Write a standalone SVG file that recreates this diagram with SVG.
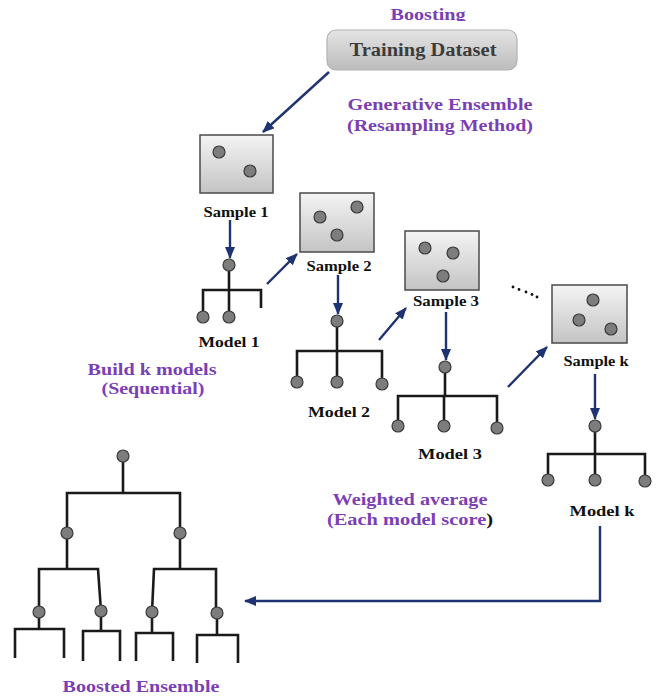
<svg xmlns="http://www.w3.org/2000/svg" width="659" height="696" viewBox="0 0 659 696">
  <style>
    .lbl { font-family: "Liberation Serif", "Times New Roman", serif; font-weight: bold; text-anchor: middle; }
    .purple { fill: #7b3fb5; font-size: 17px; }
    .cap { fill: #111; font-size: 14px; }
    .box { fill: url(#boxGrad); stroke: #4a4a4a; stroke-width: 1.5; }
    .dot { fill: #7d7d7d; stroke: #3a3a3a; stroke-width: 1.2; }
    .tree { fill: none; stroke: #1a1a1a; stroke-width: 2.6; stroke-linejoin: miter; stroke-linecap: butt; }
    .flow { fill: none; stroke: #1f3372; stroke-width: 2.4; }
  </style>
  <defs>
    <linearGradient id="boxGrad" x1="0" y1="0" x2="0" y2="1">
      <stop offset="0" stop-color="#f4f4f4"/>
      <stop offset="1" stop-color="#c4c4c4"/>
    </linearGradient>
    <linearGradient id="dataGrad" x1="0" y1="0" x2="0" y2="1">
      <stop offset="0" stop-color="#e4e4e4"/>
      <stop offset="1" stop-color="#bcbcbc"/>
    </linearGradient>
    <marker id="arrow" markerUnits="userSpaceOnUse" markerWidth="12" markerHeight="10" refX="11" refY="5" orient="auto">
      <path d="M0,0 L12,5 L0,10 Z" fill="#1f3372"/>
    </marker>
    <clipPath id="topClip">
      <rect x="0" y="0" width="659" height="21"/>
    </clipPath>
  </defs>

  <rect width="659" height="696" fill="#ffffff"/>

  <!-- headings and annotations -->
  <text class="lbl purple" x="428" y="20" textLength="75" lengthAdjust="spacingAndGlyphs" clip-path="url(#topClip)">Boosting</text>
  <text class="lbl purple" x="440" y="110" textLength="185" lengthAdjust="spacingAndGlyphs">Generative Ensemble</text>
  <text class="lbl purple" x="440" y="131" textLength="186" lengthAdjust="spacingAndGlyphs">(Resampling Method)</text>
  <text class="lbl purple" x="152" y="375" textLength="129" lengthAdjust="spacingAndGlyphs">Build k models</text>
  <text class="lbl purple" x="153" y="394" textLength="103" lengthAdjust="spacingAndGlyphs">(Sequential)</text>
  <text class="lbl purple" x="410" y="505" textLength="155" lengthAdjust="spacingAndGlyphs">Weighted average</text>
  <text class="lbl purple" x="410" y="525" textLength="166" lengthAdjust="spacingAndGlyphs">(Each model score<tspan fill="#111">)</tspan></text>
  <text class="lbl purple" x="141" y="692" textLength="157" lengthAdjust="spacingAndGlyphs">Boosted Ensemble</text>

  <!-- training dataset -->
  <g id="training-dataset">
    <rect x="327" y="30" width="190" height="40" rx="9" fill="url(#dataGrad)" stroke="#b2b2b2" stroke-width="1.2"/>
    <text class="lbl" x="423" y="56" font-size="18" fill="#3c3c3c" textLength="147" lengthAdjust="spacingAndGlyphs">Training Dataset</text>
  </g>

  <!-- samples -->
  <g id="sample-1">
    <rect class="box" x="200" y="135" width="73" height="58"/>
    <circle class="dot" cx="219" cy="152" r="6"/>
    <circle class="dot" cx="250" cy="171" r="6"/>
    <text class="lbl cap" x="236" y="217" textLength="65" lengthAdjust="spacingAndGlyphs">Sample 1</text>
  </g>
  <g id="sample-2">
    <rect class="box" x="300" y="193" width="74" height="59"/>
    <circle class="dot" cx="320" cy="217" r="6"/>
    <circle class="dot" cx="357" cy="207" r="6"/>
    <circle class="dot" cx="337" cy="235" r="6"/>
    <text class="lbl cap" x="339" y="271" textLength="65" lengthAdjust="spacingAndGlyphs">Sample 2</text>
  </g>
  <g id="sample-3">
    <rect class="box" x="405" y="231" width="74" height="59"/>
    <circle class="dot" cx="425" cy="248" r="6"/>
    <circle class="dot" cx="453" cy="253" r="6"/>
    <circle class="dot" cx="443" cy="276" r="6"/>
    <text class="lbl cap" x="446" y="306" textLength="66" lengthAdjust="spacingAndGlyphs">Sample 3</text>
  </g>
  <g id="sample-k">
    <rect class="box" x="552" y="285" width="75" height="58"/>
    <circle class="dot" cx="593" cy="300" r="6"/>
    <circle class="dot" cx="579" cy="320" r="6"/>
    <circle class="dot" cx="611" cy="329" r="6"/>
    <text class="lbl cap" x="596" y="366" textLength="65" lengthAdjust="spacingAndGlyphs">Sample k</text>
  </g>

  <!-- ellipsis between sample 3 and sample k -->
  <g id="ellipsis" fill="#111">
    <circle cx="513" cy="287" r="1.4"/>
    <circle cx="519" cy="289.5" r="1.4"/>
    <circle cx="526" cy="292" r="1.4"/>
    <circle cx="532" cy="294.5" r="1.4"/>
    <circle cx="537" cy="297" r="1.4"/>
  </g>

  <!-- models -->
  <g id="model-1">
    <path class="tree" d="M229,265 V290 M203,317 V290 H261 V308 M229,290 V317"/>
    <circle class="dot" cx="229" cy="265" r="6"/>
    <circle class="dot" cx="203" cy="317" r="6"/>
    <circle class="dot" cx="229" cy="317" r="6"/>
    <text class="lbl cap" x="229" y="347" textLength="61" lengthAdjust="spacingAndGlyphs">Model 1</text>
  </g>
  <g id="model-2">
    <path class="tree" d="M337,321 V351 M297,382 V351 H382 V384 M337,351 V382"/>
    <circle class="dot" cx="337" cy="321" r="6"/>
    <circle class="dot" cx="297" cy="382" r="6"/>
    <circle class="dot" cx="337" cy="382" r="6"/>
    <circle class="dot" cx="382" cy="384" r="6"/>
    <text class="lbl cap" x="339" y="417" textLength="62" lengthAdjust="spacingAndGlyphs">Model 2</text>
  </g>
  <g id="model-3">
    <path class="tree" d="M445,367 V396 M398,426 V396 H497 V428 M444,396 V426"/>
    <circle class="dot" cx="445" cy="367" r="6"/>
    <circle class="dot" cx="398" cy="426" r="6"/>
    <circle class="dot" cx="444" cy="426" r="6"/>
    <circle class="dot" cx="497" cy="428" r="6"/>
    <text class="lbl cap" x="450" y="459" textLength="64" lengthAdjust="spacingAndGlyphs">Model 3</text>
  </g>
  <g id="model-k">
    <path class="tree" d="M595,426 V454 M548,480 V454 H645 V481 M595,454 V480"/>
    <circle class="dot" cx="595" cy="426" r="6"/>
    <circle class="dot" cx="548" cy="480" r="6"/>
    <circle class="dot" cx="595" cy="480" r="6"/>
    <circle class="dot" cx="645" cy="481" r="6"/>
    <text class="lbl cap" x="602" y="516" textLength="65" lengthAdjust="spacingAndGlyphs">Model k</text>
  </g>

  <!-- boosted ensemble tree -->
  <g id="boosted-ensemble">
    <path class="tree" d="M123,456 V493 M67,533 V493 H180 V533
                          M67,533 V569 M39,612 V569 H98 L101,611
                          M180,533 V569 M152,612 L154,569 H216 V613
                          M39,612 V629 M15,658 V629 H64 V658
                          M101,611 V631 M83,661 V631 H120 V661
                          M152,612 V633 M136,661 V633 H173 V661
                          M217,613 V635 M197,663 V635 H238 V663"/>
    <circle class="dot" cx="123" cy="456" r="6"/>
    <circle class="dot" cx="67" cy="533" r="6"/>
    <circle class="dot" cx="180" cy="533" r="6"/>
    <circle class="dot" cx="39" cy="612" r="6"/>
    <circle class="dot" cx="101" cy="611" r="6"/>
    <circle class="dot" cx="152" cy="612" r="6"/>
    <circle class="dot" cx="217" cy="613" r="6"/>
  </g>

  <!-- connectors -->
  <g id="connectors">
    <line class="flow" x1="329" y1="72" x2="263" y2="132" marker-end="url(#arrow)"/>
    <line class="flow" x1="230" y1="220" x2="230" y2="258" marker-end="url(#arrow)"/>
    <line class="flow" x1="267" y1="284" x2="297" y2="254" marker-end="url(#arrow)"/>
    <line class="flow" x1="338" y1="275" x2="338" y2="314" marker-end="url(#arrow)"/>
    <line class="flow" x1="379" y1="340" x2="406" y2="308" marker-end="url(#arrow)"/>
    <line class="flow" x1="446" y1="312" x2="446" y2="360" marker-end="url(#arrow)"/>
    <line class="flow" x1="508" y1="387" x2="547" y2="347" marker-end="url(#arrow)"/>
    <line class="flow" x1="595" y1="374" x2="595" y2="419" marker-end="url(#arrow)"/>
    <polyline class="flow" points="600,526 600,601 245,601" marker-end="url(#arrow)"/>
  </g>
</svg>
